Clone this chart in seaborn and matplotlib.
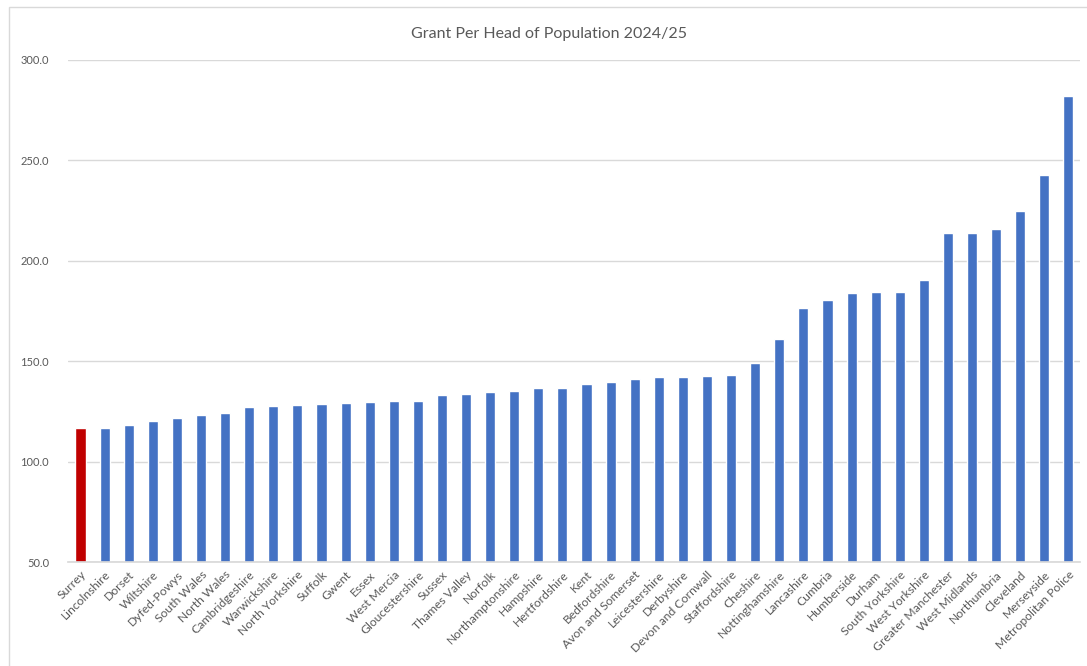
import matplotlib
matplotlib.use('Agg')
import matplotlib.pyplot as plt
import seaborn as sns
import pandas as pd
from matplotlib.patches import Rectangle

forces = ['Surrey', 'Lincolnshire', 'Dorset', 'Wiltshire', 'Dyfed-Powys', 'South Wales',
          'North Wales', 'Cambridgeshire', 'Warwickshire', 'North Yorkshire', 'Suffolk',
          'Gwent', 'Essex', 'West Mercia', 'Gloucestershire', 'Sussex', 'Thames Valley',
          'Norfolk', 'Northamptonshire', 'Hampshire', 'Hertfordshire', 'Kent',
          'Bedfordshire', 'Avon and Somerset', 'Leicestershire', 'Derbyshire',
          'Devon and Cornwall', 'Staffordshire', 'Cheshire', 'Nottinghamshire',
          'Lancashire', 'Cumbria', 'Humberside', 'Durham', 'South Yorkshire',
          'West Yorkshire', 'Greater Manchester', 'West Midlands', 'Northumbria',
          'Cleveland', 'Merseyside', 'Metropolitan Police']
grant = [116.8, 116.8, 118.1, 120.2, 121.5, 123.2, 124.3, 127.2, 127.7, 128.2, 128.5,
         129.0, 129.5, 130.0, 130.1, 133.4, 133.7, 134.7, 135.1, 136.9, 136.9, 138.7,
         139.7, 141.2, 142.0, 142.0, 142.5, 143.2, 148.9, 161.2, 176.6, 180.4, 184.1,
         184.6, 184.7, 190.2, 213.6, 214.0, 216.0, 224.6, 242.9, 282.0]
highlight = 'Surrey'

df = pd.DataFrame({'force': forces, 'grant': grant})
colours = {f: ('#C00000' if f == highlight else '#4472C4') for f in forces}

sns.set_theme(style='white')
plt.rcParams['font.family'] = ['Lato', 'DejaVu Sans']
text_col = '#595959'

fig = plt.figure(figsize=(10.87, 6.66), dpi=100)
ax = fig.add_axes([0.063, 0.156, 0.931, 0.754])

sns.barplot(data=df, x='force', y='grant', hue='force', palette=colours,
            legend=False, width=0.42, ax=ax, saturation=1)

ax.set_ylim(50, 300)
ax.set_yticks([50, 100, 150, 200, 250, 300])
ax.set_yticklabels([f'{v:.1f}' for v in [50, 100, 150, 200, 250, 300]],
                   fontsize=8, color=text_col)
ax.tick_params(axis='y', length=0, pad=14)
ax.tick_params(axis='x', length=0, pad=5)
ax.set_xticks(range(len(forces)))
ax.set_xticklabels(forces, rotation=45, ha='right', rotation_mode='anchor',
                   fontsize=8.7, color=text_col)
ax.yaxis.grid(True, color='#D9D9D9', linewidth=1)
ax.set_axisbelow(True)
for s in ['top', 'right', 'left']:
    ax.spines[s].set_visible(False)
ax.spines['bottom'].set_color('#D9D9D9')
ax.set_xlabel('')
ax.set_ylabel('')

fig.text(0.505, 0.949, 'Grant Per Head of Population 2024/25', ha='center', va='center',
         fontsize=11.5, color=text_col)

fig.patches.append(Rectangle((0.008, -0.01), 1.0, 1.0, transform=fig.transFigure,
                             fill=False, edgecolor='#D9D9D9', linewidth=1))

fig.savefig('out.png', dpi=100)
